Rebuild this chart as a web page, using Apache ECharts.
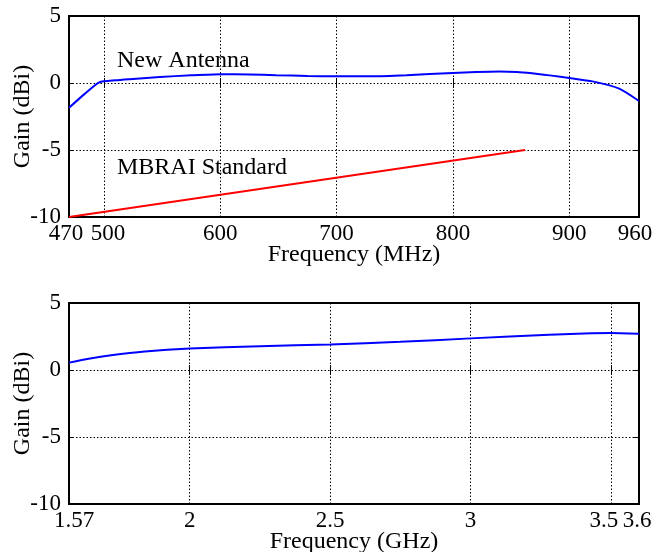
<!DOCTYPE html>
<html>
<head>
<meta charset="utf-8">
<script src="https://cdn.jsdelivr.net/npm/echarts@6/dist/echarts.min.js"></script>
<style>
  html, body { margin: 0; padding: 0; background: #fff; }
  #chart { width: 656px; height: 552px; }
</style>
</head>
<body>
<div id="chart"></div>
<script>
// UHF band (MHz)
var uhfFreq = [470, 483, 496, 510, 525, 548, 575, 600, 625, 648, 675, 700, 730, 760, 800, 820, 840, 855, 868, 885, 900, 920, 943, 960];
var uhfGain = [-1.85, -0.85, 0.05, 0.2, 0.3, 0.45, 0.57, 0.65, 0.64, 0.58, 0.53, 0.5, 0.5, 0.58, 0.75, 0.82, 0.86, 0.82, 0.72, 0.55, 0.37, 0.12, -0.42, -1.34];
var mbraiFreq = [470, 862];
var mbraiGain = [-10, -5];
var uhfTicks = [470, 500, 600, 700, 800, 900, 960];

// L/S band (GHz)
var ghzFreq = [1.57, 1.64, 1.72, 1.84, 2.0, 2.25, 2.5, 2.75, 3.0, 3.28, 3.43, 3.5, 3.6];
var ghzGain = [0.55, 0.84, 1.1, 1.38, 1.6, 1.78, 1.91, 2.1, 2.36, 2.63, 2.75, 2.76, 2.7];
var ghzTicks = [1.57, 2, 2.5, 3, 3.5, 3.6];

var font = 'Liberation Serif';
var dotted = { show: true, lineStyle: { color: '#000', type: [1.5, 2], width: 1 } };

// nudge crowded end labels apart (pixels, + = right)
var labelNudge = { 470: -3, 500: 4, 960: -4, 1.57: 5, 3.5: -7, 3.6: -2 };

function richFor() {
  var r = {};
  [-7, -4, -3, -2, 0, 4, 5].forEach(function (s) {
    r['s' + (s < 0 ? 'm' + (-s) : s)] = {
      fontFamily: font, fontSize: 23, color: '#000',
      padding: s < 0 ? [0, -2 * s, 0, 0] : [0, 0, 0, 2 * s]
    };
  });
  return r;
}

function fmtLabel(v) {
  var s = labelNudge[v] || 0;
  return '{s' + (s < 0 ? 'm' + (-s) : s) + '|' + v + '}';
}

function xAxes(idx, lo, hi, ticks, name) {
  return [
    {
      type: 'value', gridIndex: idx, min: lo, max: hi,
      name: name, nameLocation: 'middle', nameGap: 26, nameMoveOverlap: false,
      nameTextStyle: { fontFamily: font, fontSize: 24, color: '#000' },
      axisLine: { show: false },
      axisTick: { show: true, inside: true, length: 5, customValues: ticks, lineStyle: { color: '#000' } },
      axisLabel: { customValues: ticks, fontFamily: font, fontSize: 23, color: '#000', margin: 5, hideOverlap: false, formatter: fmtLabel, rich: richFor() },
      splitLine: dotted
    },
    {
      type: 'value', gridIndex: idx, min: lo, max: hi, position: 'top',
      axisLine: { show: false },
      axisTick: { show: true, inside: true, length: 5, customValues: ticks, lineStyle: { color: '#000' } },
      axisLabel: { show: false },
      splitLine: { show: false }
    }
  ];
}

function yAxes(idx) {
  return [
    {
      type: 'value', gridIndex: idx, min: -10, max: 5, interval: 5,
      name: 'Gain (dBi)', nameLocation: 'middle', nameGap: 34, nameMoveOverlap: false,
      nameTextStyle: { fontFamily: font, fontSize: 24, color: '#000' },
      axisLine: { show: false },
      axisTick: { show: true, inside: true, length: 5, lineStyle: { color: '#000' } },
      axisLabel: { fontFamily: font, fontSize: 23, color: '#000', margin: 8 },
      splitLine: dotted
    },
    {
      type: 'value', gridIndex: idx, min: -10, max: 5, interval: 5, position: 'right',
      axisLine: { show: false },
      axisTick: { show: true, inside: true, length: 5, lineStyle: { color: '#000' } },
      axisLabel: { show: false },
      splitLine: { show: false }
    }
  ];
}

function pairs(xs, ys) {
  return xs.map(function (x, i) { return [x, ys[i]]; });
}

var option = {
  animation: false,
  backgroundColor: '#fff',
  grid: [
    { left: 69, right: 17, top: 16, height: 201, outerBoundsMode: 'none', containLabel: false, show: true, borderColor: '#000', borderWidth: 2, backgroundColor: 'transparent' },
    { left: 69, right: 17, top: 303, height: 201, outerBoundsMode: 'none', containLabel: false, show: true, borderColor: '#000', borderWidth: 2, backgroundColor: 'transparent' }
  ],
  xAxis: xAxes(0, 470, 960, uhfTicks, 'Frequency (MHz)').concat(xAxes(1, 1.57, 3.6, ghzTicks, 'Frequency (GHz)')),
  yAxis: yAxes(0).concat(yAxes(1)),
  graphic: [
    { type: 'text', left: 117, top: 49, style: { text: 'New Antenna', fontFamily: font, fontSize: 24, fill: '#000' } },
    { type: 'text', left: 117, top: 156, style: { text: 'MBRAI Standard', fontFamily: font, fontSize: 24, fill: '#000' } }
  ],
  series: [
    {
      name: 'New Antenna', type: 'line', xAxisIndex: 0, yAxisIndex: 0,
      data: pairs(uhfFreq, uhfGain), showSymbol: false, smooth: 0.2,
      lineStyle: { color: '#0000ff', width: 2 }
    },
    {
      name: 'MBRAI Standard', type: 'line', xAxisIndex: 0, yAxisIndex: 0,
      data: pairs(mbraiFreq, mbraiGain), showSymbol: false,
      lineStyle: { color: '#ff0000', width: 2 }
    },
    {
      name: 'New Antenna GHz', type: 'line', xAxisIndex: 2, yAxisIndex: 2,
      data: pairs(ghzFreq, ghzGain), showSymbol: false, smooth: 0.2,
      lineStyle: { color: '#0000ff', width: 2 }
    }
  ]
};

var myChart = echarts.init(document.getElementById('chart'));
myChart.setOption(option);
</script>
</body>
</html>
